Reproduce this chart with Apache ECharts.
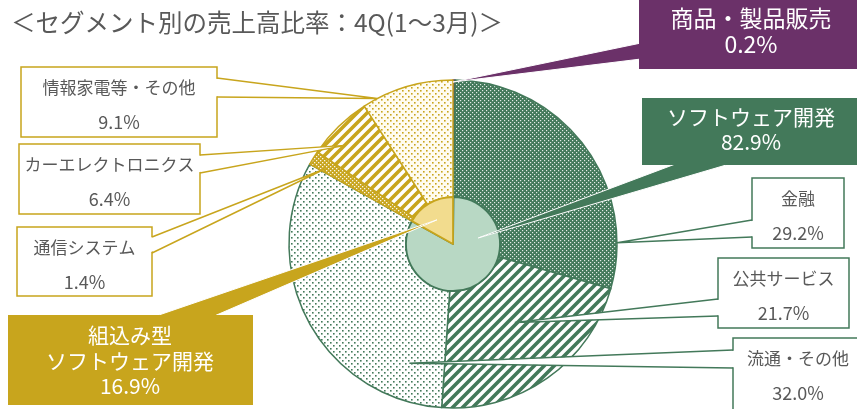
<!DOCTYPE html>
<html>
<head>
<meta charset="utf-8">
<script src="https://cdn.jsdelivr.net/npm/echarts@6/dist/echarts.min.js"></script>
<style>
  html, body { margin: 0; padding: 0; background: #ffffff; }
  #chart { width: 857px; height: 409px; }
</style>
</head>
<body>
<div id="chart"></div>
<script>
// ---- data ----
const chartTitle = '＜セグメント別の売上高比率：4Q(1～3月)＞';
const segmentNames = ['商品・製品販売', 'ソフトウェア開発', '組込み型\nソフトウェア開発'];
const segmentValues = [0.2, 82.9, 16.9];
const subNames = ['商品・製品販売', '金融', '公共サービス', '流通・その他', '通信システム', 'カーエレクトロニクス', '情報家電等・その他'];
const subValues = [0.2, 29.2, 21.7, 32.0, 1.4, 6.4, 9.1];

// ---- palette ----
const GREEN = '#43795a';
const GOLD = '#c8a51d';
const PURPLE = '#6b3169';
const BLUE = '#4472c4';
const LIGHT_GREEN = '#b8d8c4';
const LIGHT_GOLD = '#f2dc8e';
const TEXT_GRAY = '#595959';
const FONT = '"Noto Sans CJK JP", "Noto Sans", sans-serif';

// ---- pie geometry ----
const CX = 453, CY = 244, R_IN = 47, R_OUT = 164;

// ---- fill patterns ----
function dotPattern(bg, dot, size, d) {
  const c = document.createElement('canvas');
  c.width = c.height = size;
  const g = c.getContext('2d');
  g.fillStyle = bg; g.fillRect(0, 0, size, size);
  g.fillStyle = dot;
  const h = size / 2;
  g.fillRect(0, 0, d, d);
  g.fillRect(h, h, d, d);
  return { image: c, repeat: 'repeat' };
}
function stripePattern(color, size, w) {
  const c = document.createElement('canvas');
  c.width = c.height = size;
  const g = c.getContext('2d');
  g.fillStyle = '#ffffff'; g.fillRect(0, 0, size, size);
  g.strokeStyle = color; g.lineWidth = w;
  g.beginPath();
  g.moveTo(-1, size + 1); g.lineTo(size + 1, -1);
  g.moveTo(-size, size); g.lineTo(size, -size);
  g.moveTo(0, 2 * size); g.lineTo(2 * size, 0);
  g.stroke();
  return { image: c, repeat: 'repeat' };
}

const subStyles = [
  { color: PURPLE, borderColor: PURPLE },
  { color: dotPattern(GREEN, 'rgba(255,255,255,0.85)', 4, 1.2), borderColor: GREEN },
  { color: stripePattern(GREEN, 10, 3.6), borderColor: GREEN },
  { color: dotPattern('#ffffff', GREEN, 6, 1.6), borderColor: GREEN },
  { color: dotPattern(GOLD, 'rgba(255,255,255,0.9)', 4, 1.3), borderColor: GOLD },
  { color: stripePattern(GOLD, 10, 3.6), borderColor: GOLD },
  { color: dotPattern('#fffcf0', GOLD, 6, 1.6), borderColor: GOLD }
];
const segmentStyles = [
  { color: BLUE, borderColor: BLUE },
  { color: LIGHT_GREEN, borderColor: GREEN },
  { color: LIGHT_GOLD, borderColor: GOLD }
];

// point inside a slice: f = position across the slice, r = distance from centre
function slicePoint(values, i, f, r) {
  const total = values.reduce((a, b) => a + b, 0);
  let start = 0;
  for (let k = 0; k < i; k++) start += values[k];
  const deg = (start + f * values[i]) / total * 360;
  const a = deg * Math.PI / 180;
  return [CX + r * Math.sin(a), CY - r * Math.cos(a)];
}

// ---- callout layout ----
const outlinedCallouts = [
  { i: 6, box: [21, 67, 196, 70], base: [[217, 78], [217, 97]], f: 0.16, r: 164, color: GOLD },
  { i: 5, box: [19, 144, 181, 70], base: [[200, 155], [200, 173]], f: 0.36, r: 146, color: GOLD },
  { i: 4, box: [17, 227, 135, 69], base: [[152, 237], [152, 253]], f: 0.3, r: 148, color: GOLD },
  { i: 1, box: [752, 178, 92, 70], base: [[752, 220], [752, 237]], f: 0.845, r: 164, color: GREEN },
  { i: 2, box: [718, 258, 131, 70], base: [[718, 299], [718, 316]], f: 0.46, r: 100, color: GREEN },
  { i: 3, box: [733, 338, 130, 72], base: [[733, 350], [733, 368]], f: 0.14, r: 127, color: GREEN }
];
const filledCallouts = [
  { src: 'sub', i: 0, box: [639, -2, 220, 71], base: [[641, 43], [641, 59]], f: 0, r: 162,
    color: PURPLE, lines: [18, 44], cx: 751, size: 23 },
  { src: 'seg', i: 1, box: [642, 98, 217, 67], base: [[678, 163], [733, 163]], f: 0.254, r: 26,
    color: GREEN, lines: [117, 142], cx: 751, size: 21 },
  { src: 'seg', i: 2, box: [8, 315, 245, 90], base: [[153, 317], [212, 317]], f: 0.446, r: 29,
    color: GOLD, lines: [335, 361, 386], cx: 130, size: 21 }
];

const fmt = v => v.toFixed(1) + '%';
const graphics = [];
let z = 20;

outlinedCallouts.forEach(c => {
  const tip = slicePoint(subValues, c.i, c.f, c.r);
  const [x, y, w, h] = c.box;
  graphics.push({ type: 'rect', z: z++, shape: { x: x, y: y, width: w, height: h },
    style: { fill: '#ffffff', stroke: c.color, lineWidth: 1.5 } });
  // open the box edge where the tail joins
  const inward = c.base[0][0] === x ? 1.5 : -1.5;
  graphics.push({ type: 'polygon', z: z++,
    shape: { points: [[c.base[0][0] + inward, c.base[0][1] + 0.8], tip, [c.base[1][0] + inward, c.base[1][1] - 0.8]] },
    style: { fill: '#ffffff' } });
  graphics.push({ type: 'polyline', z: z++, shape: { points: [c.base[0], tip, c.base[1]] },
    style: { stroke: c.color, lineWidth: 1.5, fill: null } });
  graphics.push({ type: 'text', z: z++, style: { text: subNames[c.i], x: x + w / 2, y: y + 21,
    fill: TEXT_GRAY, font: '17px ' + FONT, textAlign: 'center', textVerticalAlign: 'middle', verticalAlign: 'middle' } });
  graphics.push({ type: 'text', z: z++, style: { text: fmt(subValues[c.i]), x: x + w / 2, y: y + 55,
    fill: TEXT_GRAY, font: '18px ' + FONT, textAlign: 'center', textVerticalAlign: 'middle', verticalAlign: 'middle' } });
});

filledCallouts.forEach(c => {
  const values = c.src === 'sub' ? subValues : segmentValues;
  const names = c.src === 'sub' ? subNames : segmentNames;
  const tip = slicePoint(values, c.i, c.f, c.r);
  const [x, y, w, h] = c.box;
  graphics.push({ type: 'polygon', z: z++, shape: { points: [c.base[0], tip, c.base[1]] },
    style: { fill: c.color, stroke: '#ffffff', lineWidth: 1 } });
  graphics.push({ type: 'rect', z: z++, shape: { x: x, y: y, width: w, height: h },
    style: { fill: c.color } });
  const textLines = names[c.i].split('\n').concat([fmt(values[c.i])]);
  textLines.forEach((t, k) => {
    graphics.push({ type: 'text', z: z++, style: { text: t, x: c.cx, y: c.lines[k],
      fill: '#ffffff', font: c.size + 'px ' + FONT, textAlign: 'center', textVerticalAlign: 'middle', verticalAlign: 'middle' } });
  });
});

const chart = echarts.init(document.getElementById('chart'));
chart.setOption({
  animation: false,
  backgroundColor: '#ffffff',
  title: {
    text: chartTitle, left: 6, top: 5,
    textStyle: { fontSize: 24.5, fontWeight: 'normal', color: TEXT_GRAY, fontFamily: FONT }
  },
  series: [
    {
      type: 'pie', name: 'sub', center: [CX, CY], radius: [R_IN, R_OUT],
      startAngle: 90, clockwise: true, avoidLabelOverlap: false,
      label: { show: false }, labelLine: { show: false },
      emphasis: { disabled: true },
      data: subNames.map((n, i) => ({ name: n, value: subValues[i],
        itemStyle: Object.assign({ borderWidth: 1.5 }, subStyles[i]) }))
    },
    {
      type: 'pie', name: 'segment', center: [CX, CY], radius: [0, R_IN],
      startAngle: 90, clockwise: true,
      label: { show: false }, labelLine: { show: false },
      emphasis: { disabled: true },
      data: segmentNames.map((n, i) => ({ name: n, value: segmentValues[i],
        itemStyle: Object.assign({ borderWidth: 1.8 }, segmentStyles[i]) }))
    }
  ],
  graphic: { elements: graphics }
});
</script>
</body>
</html>
